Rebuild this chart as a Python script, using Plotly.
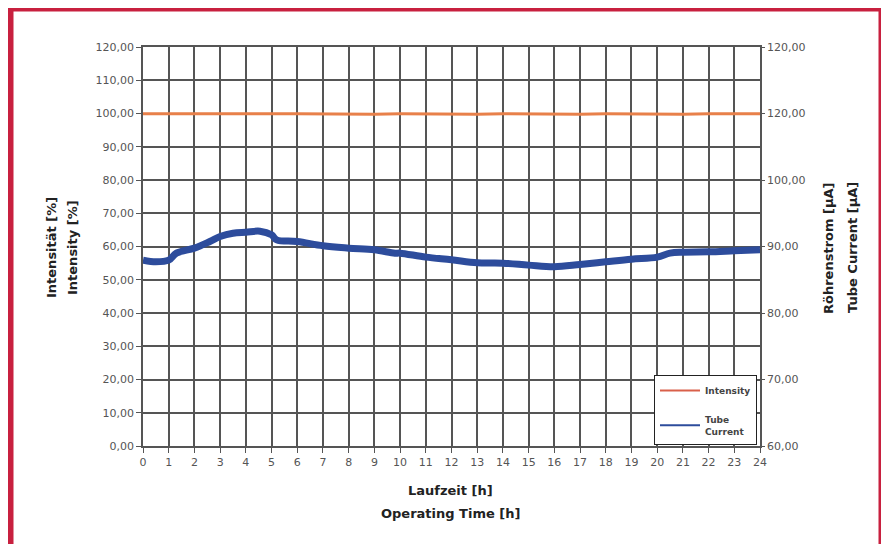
import plotly.graph_objects as go

# Operating time [h]
hours_int = list(range(0, 25))
intensity = [99.9, 99.8, 99.9, 99.9, 99.8, 99.9, 99.9, 99.8, 99.9, 99.8, 99.9, 99.8,
             99.9, 99.8, 99.9, 99.8, 99.9, 99.8, 99.9, 99.8, 99.9, 99.8, 99.9, 99.8, 99.9]

# Tube current read on the left-axis grid, converted to µA (right axis)
hours_cur = [0, 0.5, 1.0, 1.3, 2.0, 2.6, 3.0, 3.5, 4.0, 4.55, 5.0, 5.2, 6, 7, 8, 9, 9.8,
             10, 11, 12, 13, 14, 15, 16, 17, 18, 19, 20, 20.5, 21, 22, 23, 24]
current_left = [55.9, 55.4, 55.9, 58.0, 59.5, 61.5, 63.0, 64.0, 64.3, 64.6, 63.5, 62.0, 61.5,
                60.2, 59.5, 59.0, 58.0, 58.0, 56.8, 56.0, 55.1, 55.0, 54.4, 53.9, 54.6, 55.4,
                56.2, 56.8, 58.0, 58.3, 58.4, 58.7, 59.0]
current_uA = [60 + v / 2 for v in current_left]

x_ticks = list(range(0, 25))
left_ticks = list(range(0, 121, 10))
right_tickvals = [60, 70, 80, 90, 100, 110, 120]
right_ticktext = ["60,00", "70,00", "80,00", "90,00", "100,00", "120,00", "120,00"]

ORANGE = "#e8804a"
ORANGE_LEG = "#d9604a"
BLUE = "#2d4c9c"
GRID = "#555555"
TICKC = "#555555"
FONT = "DejaVu Sans"

fig = go.Figure()
fig.add_trace(go.Scatter(x=hours_int, y=intensity, mode="lines", name="Intensity",
                         line=dict(color=ORANGE, width=3), yaxis="y", showlegend=False))
fig.add_trace(go.Scatter(x=hours_cur, y=current_uA, mode="lines", name="Tube Current",
                         line=dict(color=BLUE, width=7), yaxis="y2",
                         line_shape="spline", showlegend=False))
# legend entries (thin lines as in the legend box)
fig.add_trace(go.Scatter(x=[None], y=[None], mode="lines", name="<b>Intensity</b>",
                         legendgroup="a", line=dict(color=ORANGE_LEG, width=2)))
fig.add_trace(go.Scatter(x=[None], y=[None], mode="lines", name="<b>Tube<br>Current</b>",
                         legendgroup="b", line=dict(color=BLUE, width=2)))

OFF = 8  # page body margin
W, H = 889 - OFF, 544 - OFF
L, R, T, B = 143 - OFF, 889 - 760, 47 - OFF, 544 - 446
pw, ph = W - L - R, H - T - B

def px(x):
    return (x - OFF - L) / pw

def py(y):
    return (H - B - (y - OFF)) / ph

fig.update_layout(
    width=W, height=H,
    margin=dict(l=L, r=R, t=T, b=B),
    paper_bgcolor="white", plot_bgcolor="white",
    separators=",.",
    font=dict(family=FONT, size=11, color=TICKC),
    showlegend=True,
    legend=dict(x=px(654), y=py(375), xanchor="left", yanchor="top",
                bgcolor="white", bordercolor="#222222", borderwidth=1,
                font=dict(family=FONT, size=9, color="#444444"),
                tracegroupgap=12, itemwidth=40, entrywidth=62, entrywidthmode="pixels"),
    xaxis=dict(range=[0, 24], tickvals=x_ticks, showgrid=True, gridcolor=GRID, gridwidth=1.5,
               showline=True, linecolor=GRID, linewidth=1.5, ticks="outside", ticklen=5,
               tickcolor=GRID, tickfont=dict(size=11, color=TICKC), zeroline=False,
               mirror=True),
    yaxis=dict(range=[0, 120], tickvals=left_ticks, tickformat=".2f", showgrid=True,
               gridcolor=GRID, gridwidth=1.5, showline=True, linecolor=GRID, linewidth=1.5,
               ticks="outside", ticklen=5, tickcolor=GRID, zeroline=False,
               tickfont=dict(size=11, color=TICKC)),
    yaxis2=dict(range=[60, 120], tickvals=right_tickvals, ticktext=right_ticktext,
                overlaying="y", side="right", showgrid=False, showline=True,
                linecolor=GRID, linewidth=1.5, ticks="outside", ticklen=3, tickcolor=GRID,
                zeroline=False, tickfont=dict(size=11, color=TICKC)),
)

title_font = dict(family=FONT, size=13, color="#222222")
ann = dict(xref="paper", yref="paper", showarrow=False, font=title_font,
           xanchor="center", yanchor="middle")
fig.add_annotation(text="<b>Laufzeit [h]</b>", x=px(450), y=py(490), **ann)
fig.add_annotation(text="<b>Operating Time [h]</b>", x=px(450), y=py(513), **ann)
fig.add_annotation(text="<b>Intensität [%]</b>", x=px(51), y=py(248), textangle=-90, **ann)
fig.add_annotation(text="<b>Intensity [%]</b>", x=px(72), y=py(248), textangle=-90, **ann)
fig.add_annotation(text="<b>Röhrenstrom [µA]</b>", x=px(828), y=py(248), textangle=-90, **ann)
fig.add_annotation(text="<b>Tube Current [µA]</b>", x=px(852), y=py(248), textangle=-90, **ann)

# red frame around the figure
fig.add_shape(type="rect", xref="paper", yref="paper",
              x0=px(10), x1=px(882), y0=py(580), y1=py(8),
              line=dict(color="#c8203f", width=7), fillcolor="rgba(0,0,0,0)", layer="above")

fig.write_html("out.html")
